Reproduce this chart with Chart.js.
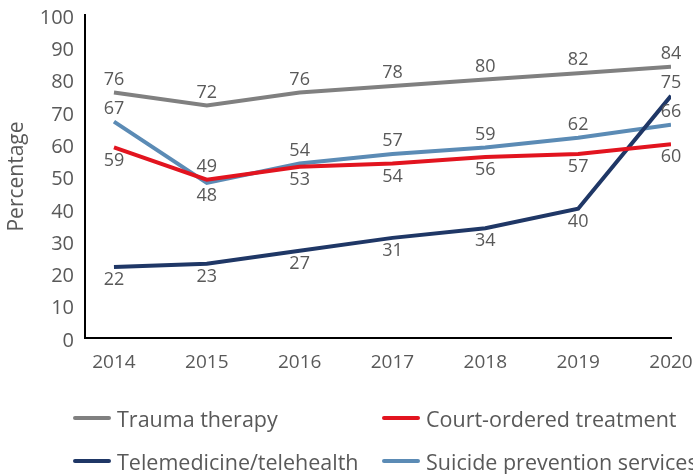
<!DOCTYPE html>
<html>
<head>
<meta charset="utf-8">
<script src="https://cdn.jsdelivr.net/npm/chart.js@4/dist/chart.umd.min.js"></script>
<style>
  body { margin: 0; background: #fff; font-family: "Open Sans", sans-serif; }
  #wrap { position: relative; width: 693px; height: 474px; overflow: hidden; }
  #chart-box { position: absolute; left: 0; top: 0; width: 693px; height: 390px; }
  .legend { position: absolute; left: 0; top: 0; width: 693px; height: 474px; pointer-events: none; }
  .legend-item { position: absolute; display: flex; align-items: center; font-size: 21.5px; color: #595959; white-space: nowrap; }
  .legend-item .swatch { width: 38px; height: 4px; border-radius: 2px; margin-right: 6px; }
</style>
</head>
<body>
<div id="wrap">
  <div id="chart-box"><canvas id="c"></canvas></div>
  <div class="legend" id="legend"></div>
</div>
<script>
// data
const years = [2014, 2015, 2016, 2017, 2018, 2019, 2020];
const trauma = [76, 72, 76, 78, 80, 82, 84];
const courtOrdered = [59, 49, 53, 54, 56, 57, 60];
const telehealth = [22, 23, 27, 31, 34, 40, 75];
const suicidePrev = [67, 48, 54, 57, 59, 62, 66];
const yTicks = [0, 10, 20, 30, 40, 50, 60, 70, 80, 90, 100];

// where each value label sits: 1 = above the point, -1 = below
const traumaLabelPos = [1, 1, 1, 1, 1, 1, 1];
const courtLabelPos = [-1, 1, -1, -1, -1, -1, -1];
const teleLabelPos = [-1, -1, -1, -1, -1, -1, 1];
const suicideLabelPos = [1, -1, 1, 1, 1, 1, 1];

const TEXT = '#595959';
const FONT = '"Open Sans", sans-serif';

const series = [
  { label: 'Trauma therapy', values: trauma, color: '#808080', pos: traumaLabelPos },
  { label: 'Court-ordered treatment', values: courtOrdered, color: '#E2141F', pos: courtLabelPos },
  { label: 'Telemedicine/telehealth', values: telehealth, color: '#1F3766', pos: teleLabelPos },
  { label: 'Suicide prevention services', values: suicidePrev, color: '#5B8BB5', pos: suicideLabelPos },
];

// value labels drawn next to each point
const valueLabels = {
  id: 'valueLabels',
  afterDatasetsDraw(chart) {
    const ctx = chart.ctx;
    ctx.save();
    ctx.font = '18px ' + FONT;
    ctx.fillStyle = TEXT;
    ctx.textAlign = 'center';
    ctx.textBaseline = 'middle';
    chart.data.datasets.forEach((ds, i) => {
      const meta = chart.getDatasetMeta(i);
      meta.data.forEach((pt, j) => {
        const dy = ds.labelPos[j] > 0 ? -13 : 13;
        ctx.fillText(String(ds.data[j].y), pt.x, pt.y + dy);
      });
    });
    ctx.restore();
  }
};

new Chart(document.getElementById('c'), {
  type: 'line',
  data: {
    datasets: series.map((s) => ({
      label: s.label,
      data: years.map((yr, i) => ({ x: yr, y: s.values[i] })),
      borderColor: s.color,
      backgroundColor: s.color,
      borderWidth: 4,
      pointRadius: 0,
      tension: 0,
      labelPos: s.pos,
    })),
  },
  options: {
    responsive: true,
    maintainAspectRatio: false,
    animation: false,
    layout: { padding: { top: 15, right: 22, bottom: 0, left: 0 } },
    plugins: {
      legend: { display: false },
      tooltip: { enabled: false },
    },
    scales: {
      x: {
        type: 'linear',
        min: 2013.688,
        max: 2020,
        grid: { display: false, drawTicks: false },
        border: { display: true, color: '#000', width: 2 },
        afterBuildTicks: (axis) => { axis.ticks = years.map((v) => ({ value: v })); },
        afterFit: (axis) => {
          axis.height = 52;
          axis.paddingLeft = 0;
          axis.paddingRight = 0;
        },
        ticks: {
          color: TEXT,
          font: { family: FONT, size: 19 },
          padding: 13,
          maxRotation: 0,
          callback: (v) => String(v),
        },
      },
      y: {
        min: 0,
        max: 100,
        grid: { display: false, drawTicks: false },
        border: { display: true, color: '#000', width: 2 },
        afterBuildTicks: (axis) => { axis.ticks = yTicks.map((v) => ({ value: v })); },
        afterFit: (axis) => {
          axis.width = 85;
          axis.paddingTop = 0;
          axis.paddingBottom = 0;
        },
        ticks: {
          color: TEXT,
          font: { family: FONT, size: 20 },
          padding: 11,
          labelOffset: 3,
        },
        title: {
          display: true,
          text: 'Percentage',
          color: TEXT,
          font: { family: FONT, size: 21 },
          padding: { top: 4, bottom: 0 },
        },
      },
    },
  },
  plugins: [valueLabels],
});

// legend laid out as a 2x2 grid like the reference
const legendSpots = [
  { left: 73, top: 418 },
  { left: 382, top: 418 },
  { left: 73, top: 461 },
  { left: 382, top: 461 },
];
const legendEl = document.getElementById('legend');
series.forEach((s, i) => {
  const item = document.createElement('div');
  item.className = 'legend-item';
  item.style.left = legendSpots[i].left + 'px';
  item.style.top = (legendSpots[i].top - 15) + 'px';
  item.style.height = '30px';
  item.innerHTML = '<span class="swatch" style="background:' + s.color + '"></span><span>' + s.label + '</span>';
  legendEl.appendChild(item);
});
</script>
</body>
</html>
